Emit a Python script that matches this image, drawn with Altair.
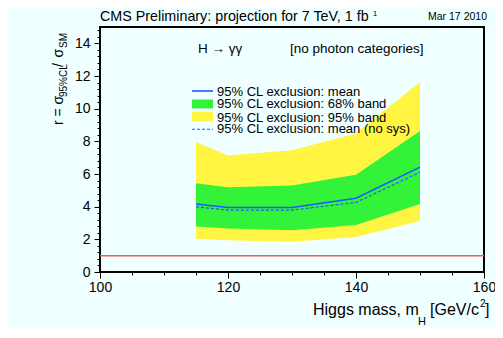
import altair as alt
import pandas as pd

# ---- data ----
masses = [115, 120, 130, 140, 150]
band95_lo = [2.04, 1.94, 1.85, 2.14, 3.13]
band68_lo = [2.78, 2.66, 2.55, 2.88, 4.16]
mean_r = [4.16, 3.95, 3.95, 4.51, 6.42]
mean_nosys = [3.99, 3.79, 3.79, 4.26, 6.11]
band68_hi = [5.43, 5.19, 5.29, 5.95, 8.64]
band95_hi = [7.96, 7.14, 7.45, 8.48, 11.63]
sm_ref = [1.0]

x_ticks = [100, 105, 110, 115, 120, 125, 130, 135, 140, 145, 150, 155, 160]
y_ticks = [round(i * 0.4, 1) for i in range(38)]

legend_labels = [
    "95% CL exclusion: mean",
    "95% CL exclusion: 68% band",
    "95% CL exclusion: 95% band",
    "95% CL exclusion: mean (no sys)",
]

FONT = "Liberation Sans"
YELLOW = "#FFF542"
GREEN = "#33F23A"
BLUE = "#1F5AFF"
RED = "#F0604A"
BG = "#F0FFFF"

df = pd.DataFrame({
    "mass": masses, "lo95": band95_lo, "lo68": band68_lo, "mean": mean_r,
    "nosys": mean_nosys, "hi68": band68_hi, "hi95": band95_hi,
})

xscale = alt.Scale(domain=[100, 160], nice=False, zero=False)
yscale = alt.Scale(domain=[0, 15], nice=False, zero=True)

xaxis = alt.Axis(
    values=x_ticks, title=None, grid=False, domain=False,
    labelFont=FONT, labelFontSize=14, labelColor="black", labelPadding=2,
    labelExpr="datum.value % 20 == 0 ? datum.label : ''",
    labelOverlap=False, labelFlush=False,
    tickColor="black", tickWidth=1,
    tickSize={"condition": {"test": "datum.value % 20 == 0", "value": 6}, "value": 3},
)
yaxis = alt.Axis(
    values=y_ticks, title=None, grid=False, domain=False,
    labelFont=FONT, labelFontSize=14, labelColor="black", labelPadding=4,
    labelExpr="abs(datum.value - 2*round(datum.value/2)) < 0.01 ? format(datum.value, 'd') : ''",
    labelOverlap=False,
    tickColor="black", tickWidth=1,
    tickSize={"condition": {"test": "abs(datum.value - 2*round(datum.value/2)) < 0.01", "value": 6}, "value": 3},
)

base = alt.Chart(df)
X = alt.X("mass:Q", scale=xscale, axis=xaxis)

band95 = base.mark_area(color=YELLOW, opacity=1).encode(
    x=X, y=alt.Y("lo95:Q", scale=yscale, axis=yaxis), y2="hi95:Q")
band68 = base.mark_area(color=GREEN, opacity=1).encode(
    x=X, y=alt.Y("lo68:Q", scale=yscale, axis=yaxis), y2="hi68:Q")
line_mean = base.mark_line(color=BLUE, strokeWidth=1.6).encode(
    x=X, y=alt.Y("mean:Q", scale=yscale, axis=yaxis))
line_nosys = base.mark_line(color=BLUE, strokeWidth=1.1, strokeDash=[3, 2]).encode(
    x=X, y=alt.Y("nosys:Q", scale=yscale, axis=yaxis))
ref = alt.Chart(pd.DataFrame({"r": sm_ref})).mark_rule(color=RED, strokeWidth=1.5).encode(
    y=alt.Y("r:Q", scale=yscale, axis=yaxis))


def txt(s, x, y, size=14, align="left", angle=0, baseline="alphabetic"):
    return alt.Chart(pd.DataFrame({"t": [s]})).mark_text(
        font=FONT, fontSize=size, align=align, baseline=baseline, angle=angle,
        color="black").encode(x=alt.value(x), y=alt.value(y), text="t:N")


annotations = [
    txt("CMS Preliminary: projection for 7 TeV, 1 fb", 0, -6, 14.3),
    txt("1", 273, -11.5, 7.5),
    txt("Mar 17 2010", 387, -7, 10.5, align="right"),
    txt("H → γγ", 98, 26, 13.5),
    txt("[no photon categories]", 190, 26, 13.5),
    # y title pieces (rotated)
    txt("r = σ", -37, 98, 14, angle=270),
    txt("95%CL", -33, 70, 10, angle=270),
    txt("/", -37, 40, 14, angle=270),
    txt("σ", -37, 30.5, 14, angle=270),
    txt("SM", -33, 21, 10, angle=270),
    # x title pieces
    txt("Higgs mass, m", 213, 288, 16),
    txt("H", 318, 298, 11),
    txt("[GeV/c", 330, 288, 16),
    txt("2", 380, 280, 10),
    txt("]", 385, 288, 16),
]

# legend
leg_y = [69, 81.3, 94.5, 106]
legend = [
    alt.Chart(pd.DataFrame({"a": [0]})).mark_rect(color=GREEN).encode(
        x=alt.value(92), x2=alt.value(113), y=alt.value(72.5), y2=alt.value(81.5)),
    alt.Chart(pd.DataFrame({"a": [0]})).mark_rect(color=YELLOW).encode(
        x=alt.value(92), x2=alt.value(113), y=alt.value(85), y2=alt.value(94.5)),
    alt.Chart(pd.DataFrame({"a": [0]})).mark_rule(color=BLUE, strokeWidth=1.6).encode(
        x=alt.value(92), x2=alt.value(113), y=alt.value(64)),
    alt.Chart(pd.DataFrame({"a": [0]})).mark_rule(color=BLUE, strokeWidth=1.1, strokeDash=[3, 2]).encode(
        x=alt.value(92), x2=alt.value(113), y=alt.value(102.3)),
]
for lab, yy in zip(legend_labels, leg_y):
    legend.append(txt(lab, 117, yy, 13))

chart = alt.layer(
    band95, band68, line_mean, line_nosys, ref, *legend, *annotations
).properties(
    width=384, height=245,
    autosize=alt.AutoSizeParams(type="none"),
    padding={"left": 92, "top": 19, "right": 11, "bottom": 55},
    background=BG,
).configure_view(stroke="black", strokeWidth=2)

chart.save("out.html", embed_options={"renderer": "svg", "actions": False})
